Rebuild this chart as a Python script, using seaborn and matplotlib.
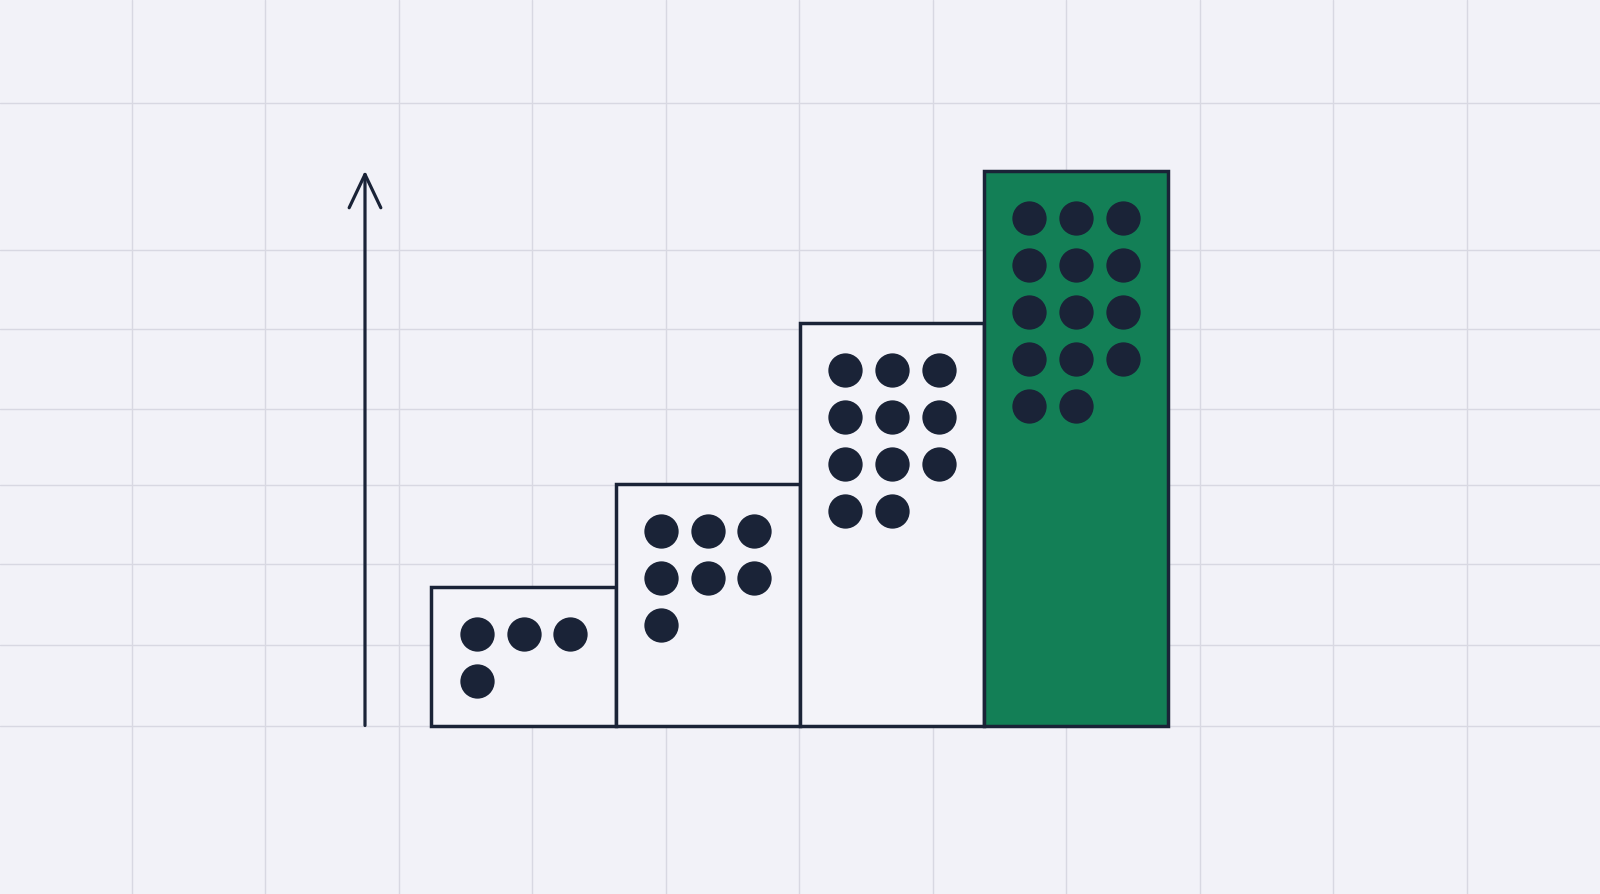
import matplotlib
matplotlib.use("Agg")
import matplotlib.pyplot as plt
import seaborn as sns
import numpy as np
import pandas as pd

# ---- data ----
categories = ["A", "B", "C", "D"]
values = [25, 43.5, 72.5, 100]
dot_counts = [4, 7, 11, 14]
bar_colors = ["#f3f3f9", "#f3f3f9", "#f3f3f9", "#137f56"]

# ---- style ----
BG = "#f2f2f8"
GRID = "#d8d8e2"
INK = "#1a2337"

sns.set_theme(style="white")
plt.rcParams["font.family"] = ["DejaVu Sans"]

W, H = 1600, 894
fig = plt.figure(figsize=(W / 100, H / 100), dpi=100)
fig.patch.set_facecolor(BG)

# background grid (decorative, in pixel space)
ax_bg = fig.add_axes([0, 0, 1, 1])
ax_bg.set_facecolor(BG)
ax_bg.set_xlim(0, W)
ax_bg.set_ylim(H, 0)
ax_bg.set_xticks(131.6 + 133.5 * np.arange(11))
ax_bg.set_yticks([103, 250, 329, 409, 485, 564, 645, 726])
ax_bg.grid(True, color=GRID, linewidth=1.0)
ax_bg.tick_params(length=0, labelbottom=False, labelleft=False)
for s in ax_bg.spines.values():
    s.set_visible(False)

# main axes
ax = fig.add_axes([0, 0, 1, 1])
ax.set_facecolor("none")

df = pd.DataFrame({"cat": categories, "val": values})
sns.barplot(data=df, x="cat", y="val", hue="cat", palette=bar_colors,
            legend=False, width=1.0, edgecolor=INK, linewidth=2.5,
            saturation=1, ax=ax, zorder=2)

# dots inside bars
col_off = 0.2535
row_step = 8.47
top_off = 8.5
xs, ys = [], []
for i, (v, n) in enumerate(zip(values, dot_counts)):
    for k in range(n):
        r, c = divmod(k, 3)
        xs.append(i + (c - 1) * col_off)
        ys.append(v - top_off - r * row_step)
ax.scatter(xs, ys, s=610, color=INK, linewidths=0, zorder=3)

# axis arrow
arrow_x = -0.8605
ax.annotate("", xy=(arrow_x, max(values)), xytext=(arrow_x, 0),
            arrowprops=dict(arrowstyle="->,head_length=2.0,head_width=0.95",
                            color=INK, lw=2.3, shrinkA=0, shrinkB=0),
            zorder=3)

# scales: map to reference layout
XU, X0 = 184.2, 523.5
YU, Y0 = 5.548, 168.5
ax.set_xlim(-X0 / XU, (W - X0) / XU)
ax.set_ylim(-Y0 / YU, (H - Y0) / YU)
ax.set_xlabel("")
ax.set_ylabel("")
ax.set_xticks([])
ax.set_yticks([])
ax.grid(False)
for s in ax.spines.values():
    s.set_visible(False)

fig.savefig("out.png", dpi=100, facecolor=BG)
